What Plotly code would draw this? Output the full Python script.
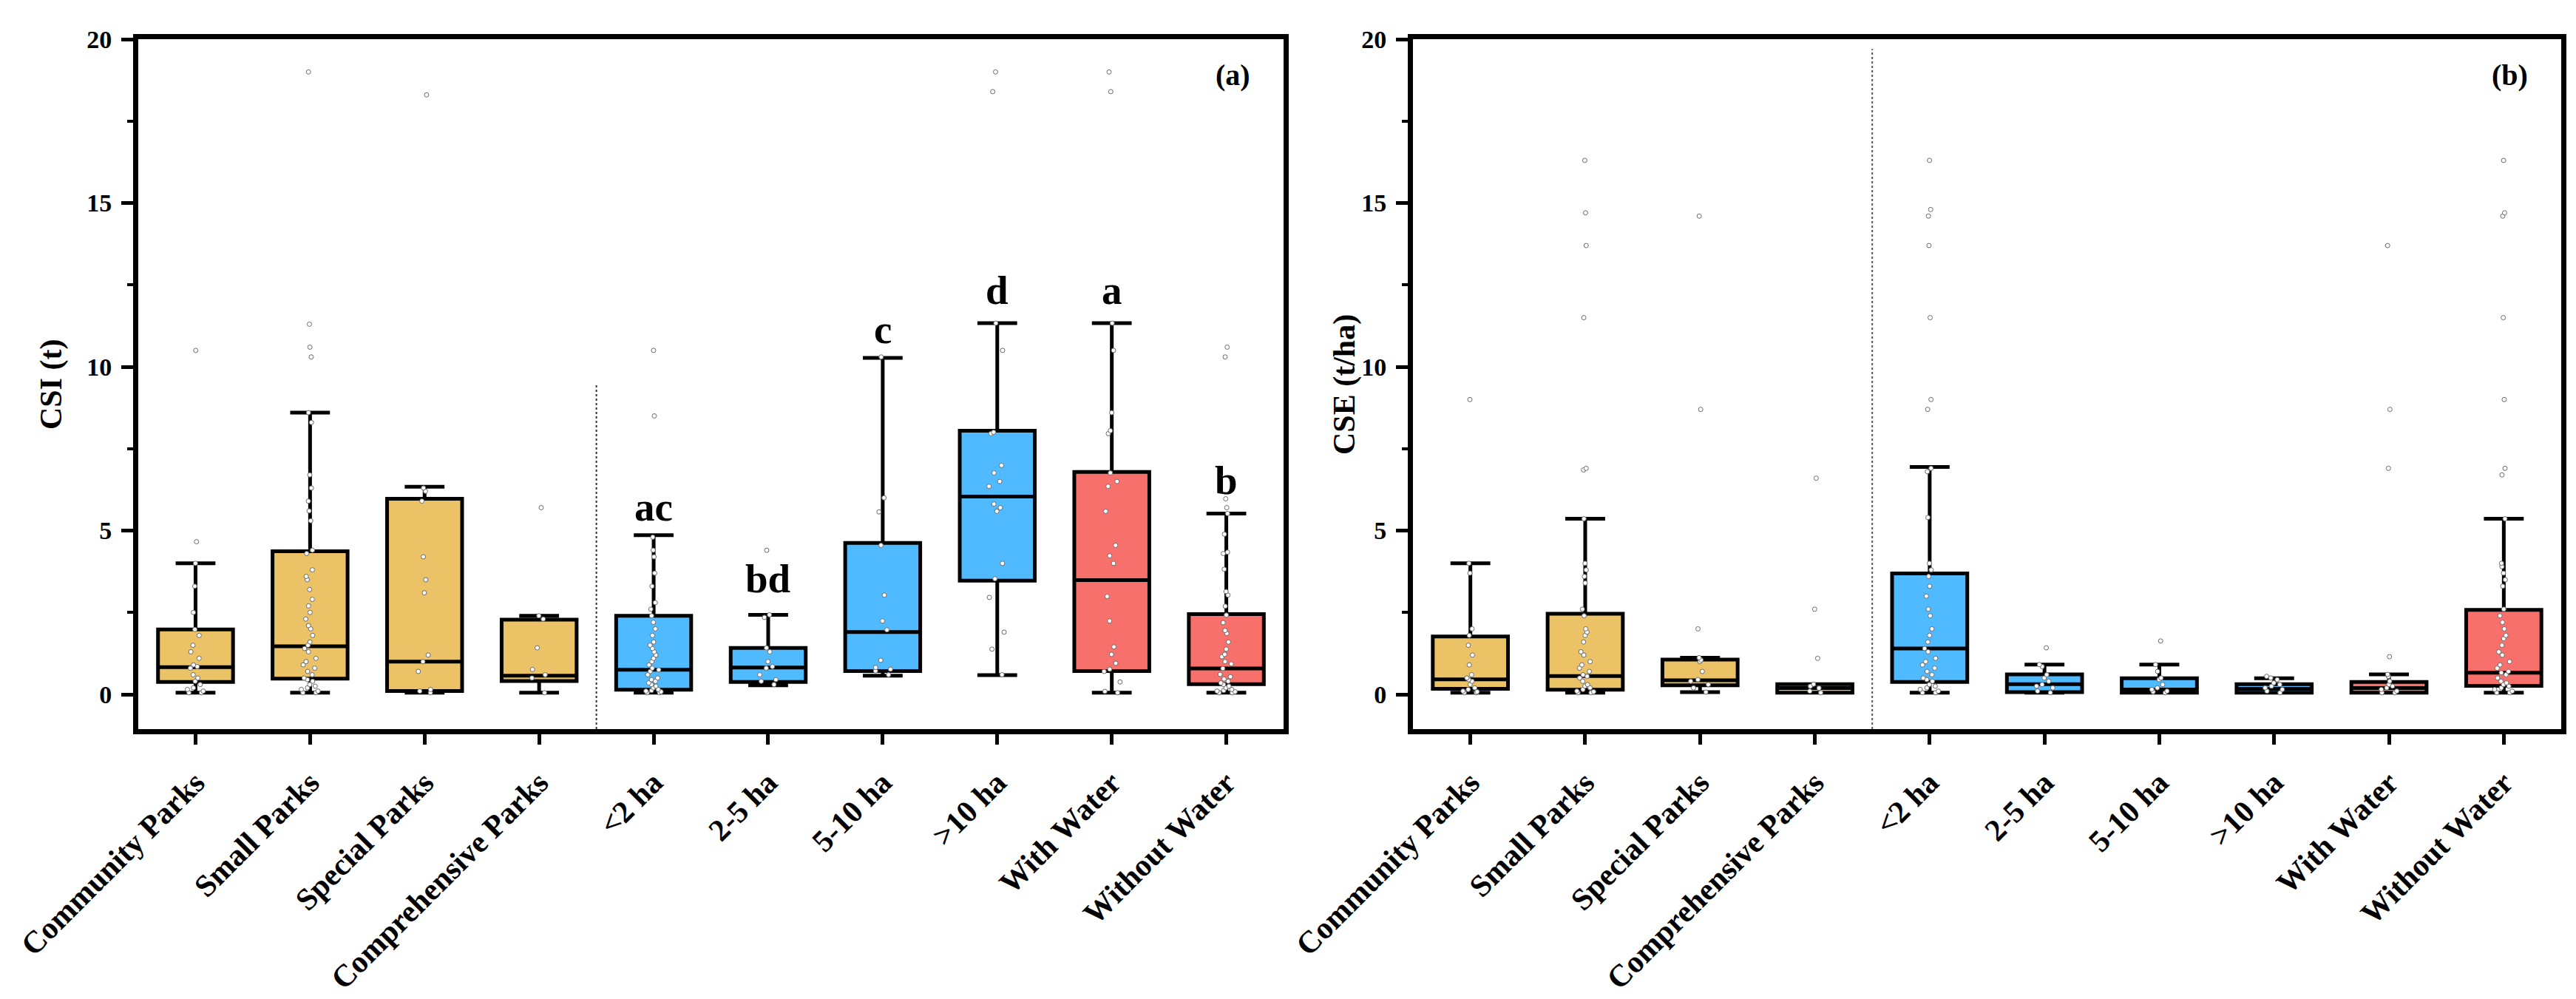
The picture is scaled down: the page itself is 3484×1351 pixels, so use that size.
import html
import plotly.graph_objects as go

CATEGORIES = ["Community Parks", "Small Parks", "Special Parks", "Comprehensive Parks",
              "<2 ha", "2-5 ha", "5-10 ha", ">10 ha", "With Water", "Without Water"]
BOX_COLORS = ["#EBC266"] * 4 + ["#4FBAFF"] * 4 + ["#F7706B"] * 2

# panel (a): CSI (t) box statistics
CSI_LO = [0.05, 0.05, 0.05, 0.05, 0.05, 0.28, 0.57, 0.59, 0.05, 0.05]
CSI_Q1 = [0.38, 0.48, 0.10, 0.41, 0.14, 0.38, 0.71, 3.47, 0.71, 0.31]
CSI_MED = [0.83, 1.47, 1.00, 0.57, 0.75, 0.82, 1.90, 6.04, 3.49, 0.79]
CSI_Q3 = [1.98, 4.37, 5.97, 2.28, 2.40, 1.42, 4.62, 8.05, 6.79, 2.45]
CSI_HI = [4.00, 8.60, 6.34, 2.40, 4.86, 2.43, 10.27, 11.33, 11.33, 5.52]

# panel (a): individual samples
CSI_COMMUNITY = [10.5, 4.66, 4.0, 3.3, 2.5, 1.98, 1.8, 1.5, 1.3, 1.1, 0.9, 0.85, 0.8,
                 0.6, 0.5, 0.4, 0.3, 0.2, 0.15, 0.1, 0.05, 0.05]
CSI_SMALL = [19.0, 11.3, 10.6, 10.3, 8.6, 8.3, 6.7, 6.3, 5.9, 5.6, 5.3, 4.4, 4.3, 3.8, 3.6,
             3.5, 3.2, 2.9, 2.7, 2.5, 2.3, 2.1, 2.0, 1.8, 1.6, 1.5, 1.4, 1.3, 1.1, 1.0, 0.9,
             0.8, 0.7, 0.6, 0.5, 0.45, 0.4, 0.3, 0.25, 0.2, 0.15, 0.1, 0.05, 0.05]
CSI_SPECIAL = [18.3, 6.3, 6.2, 5.9, 4.2, 3.5, 3.1, 1.2, 1.0, 0.7, 0.15, 0.1, 0.05]
CSI_COMPREHENSIVE = [5.7, 2.4, 2.3, 1.42, 0.76, 0.6, 0.5, 0.05]
CSI_LT2 = [10.5, 8.5, 4.8, 4.4, 4.2, 3.7, 3.3, 2.8, 2.6, 2.4, 2.2, 2.0, 1.8, 1.6, 1.5, 1.4,
           1.3, 1.2, 1.1, 1.0, 0.9, 0.8, 0.75, 0.7, 0.6, 0.5, 0.45, 0.4, 0.35, 0.3, 0.25,
           0.2, 0.15, 0.12, 0.1, 0.08, 0.05, 0.05]
CSI_2TO5 = [4.4, 2.43, 2.35, 1.42, 1.3, 1.0, 0.85, 0.8, 0.6, 0.45, 0.4, 0.3]
CSI_5TO10 = [10.3, 6.0, 5.57, 4.55, 3.03, 2.24, 1.97, 1.04, 0.82, 0.77, 0.72, 0.6]
CSI_GT10 = [19.0, 18.4, 11.33, 10.5, 7.96, 8.0, 6.99, 6.76, 6.5, 6.35, 5.81, 5.7, 5.59,
            4.0, 3.53, 2.96, 1.9, 1.38, 0.6]
CSI_WATER = [19.0, 18.4, 11.33, 10.5, 8.6, 8.05, 7.96, 6.76, 6.5, 6.35, 5.59, 4.55, 4.23,
             4.0, 2.99, 2.24, 1.45, 1.22, 0.95, 0.77, 0.7, 0.38, 0.09, 0.05]
CSI_NOWATER = [10.6, 10.3, 5.97, 5.7, 5.52, 4.89, 4.34, 4.3, 3.82, 3.14, 3.03, 2.69, 2.42,
               2.19, 1.95, 1.86, 1.6, 1.38, 1.22, 1.15, 1.0, 0.93, 0.79, 0.61, 0.54, 0.47,
               0.4, 0.35, 0.3, 0.25, 0.2, 0.15, 0.12, 0.1, 0.08, 0.05, 0.05]

# panel (b): CSE (t/ha) box statistics
CSE_LO = [0.05, 0.05, 0.07, 0.05, 0.05, 0.05, 0.05, 0.05, 0.05, 0.05]
CSE_Q1 = [0.17, 0.14, 0.28, 0.05, 0.38, 0.07, 0.05, 0.05, 0.05, 0.26]
CSE_MED = [0.46, 0.56, 0.43, 0.19, 1.40, 0.31, 0.15, 0.17, 0.19, 0.66]
CSE_Q3 = [1.77, 2.46, 1.06, 0.31, 3.69, 0.61, 0.49, 0.31, 0.38, 2.58]
CSE_HI = [4.00, 5.36, 1.12, 0.31, 6.94, 0.91, 0.91, 0.49, 0.61, 5.36]

# panel (b): individual samples
CSE_COMMUNITY = [9.0, 4.0, 3.7, 2.0, 1.8, 1.5, 1.2, 0.9, 0.6, 0.5, 0.45, 0.4, 0.3, 0.2,
                 0.15, 0.1, 0.08, 0.05, 0.05]
CSE_SMALL = [16.3, 14.7, 13.7, 11.5, 6.9, 6.85, 5.36, 4.0, 3.8, 3.6, 3.4, 2.6, 2.4, 2.0,
             1.9, 1.8, 1.6, 1.3, 1.2, 1.0, 0.9, 0.8, 0.7, 0.6, 0.55, 0.5, 0.4, 0.3, 0.25,
             0.2, 0.15, 0.1, 0.08, 0.05, 0.05]
CSE_SPECIAL = [14.6, 8.7, 2.0, 1.12, 1.05, 1.0, 0.7, 0.45, 0.4, 0.3, 0.2, 0.07]
CSE_COMPREHENSIVE = [6.6, 2.6, 1.1, 0.31, 0.25, 0.19, 0.1, 0.05]
CSE_LT2 = [16.3, 14.8, 14.6, 13.7, 11.5, 9.0, 8.7, 6.9, 6.8, 5.4, 4.0, 3.8, 3.6, 3.3, 3.0,
           2.6, 2.4, 2.0, 1.8, 1.6, 1.4, 1.3, 1.1, 1.0, 0.9, 0.8, 0.7, 0.6, 0.5, 0.45, 0.4,
           0.3, 0.25, 0.2, 0.15, 0.1, 0.05, 0.05]
CSE_2TO5 = [1.42, 0.91, 0.85, 0.6, 0.5, 0.4, 0.3, 0.25, 0.2, 0.1, 0.05]
CSE_5TO10 = [1.63, 0.91, 0.7, 0.5, 0.45, 0.3, 0.2, 0.15, 0.1, 0.08, 0.05]
CSE_GT10 = [0.55, 0.5, 0.45, 0.35, 0.3, 0.25, 0.2, 0.15, 0.1, 0.05]
CSE_WATER = [13.7, 8.7, 6.9, 1.15, 0.61, 0.55, 0.4, 0.3, 0.25, 0.2, 0.15, 0.1, 0.05, 0.05]
CSE_NOWATER = [16.3, 14.7, 14.6, 11.5, 9.0, 6.9, 6.7, 5.36, 4.0, 3.9, 3.7, 3.5, 3.3, 2.6,
               2.4, 2.2, 2.0, 1.8, 1.7, 1.5, 1.3, 1.2, 1.0, 0.9, 0.8, 0.7, 0.66, 0.6, 0.5,
               0.4, 0.35, 0.3, 0.25, 0.2, 0.15, 0.1, 0.05, 0.05]

# significance letters in panel (a)
LETTERS = ["ac", "bd", "c", "d", "a", "b"]
LETTER_POS = [4, 5, 6, 7, 8, 9]
LETTER_Y = [4.98, 2.8, 10.4, 11.6, 11.6, 5.8]

FONT = "Liberation Serif"
BOX_WIDTH = 0.655

panels = [
    dict(xa="x", ya="y", lo=CSI_LO, q1=CSI_Q1, med=CSI_MED, q3=CSI_Q3, hi=CSI_HI,
         pts=[CSI_COMMUNITY, CSI_SMALL, CSI_SPECIAL, CSI_COMPREHENSIVE, CSI_LT2,
              CSI_2TO5, CSI_5TO10, CSI_GT10, CSI_WATER, CSI_NOWATER]),
    dict(xa="x2", ya="y2", lo=CSE_LO, q1=CSE_Q1, med=CSE_MED, q3=CSE_Q3, hi=CSE_HI,
         pts=[CSE_COMMUNITY, CSE_SMALL, CSE_SPECIAL, CSE_COMPREHENSIVE, CSE_LT2,
              CSE_2TO5, CSE_5TO10, CSE_GT10, CSE_WATER, CSE_NOWATER]),
]

fig = go.Figure()

for p in panels:
    for i, cat in enumerate(CATEGORIES):
        fig.add_trace(go.Box(
            x=[i], q1=[p["q1"][i]], median=[p["med"][i]], q3=[p["q3"][i]],
            lowerfence=[p["lo"][i]], upperfence=[p["hi"][i]],
            name=cat, width=BOX_WIDTH, whiskerwidth=0.53,
            fillcolor=BOX_COLORS[i], line=dict(color="black", width=5),
            boxpoints=False, showlegend=False, xaxis=p["xa"], yaxis=p["ya"]))
    for i, cat in enumerate(CATEGORIES):
        vals = p["pts"][i]
        fig.add_trace(go.Box(
            x=[i] * len(vals), y=vals, name=cat, width=BOX_WIDTH,
            boxpoints="all", jitter=0.3, pointpos=0,
            fillcolor="rgba(0,0,0,0)", line=dict(color="rgba(0,0,0,0)", width=0),
            marker=dict(color="white", size=6, line=dict(color="#6a6a6a", width=1)),
            showlegend=False, xaxis=p["xa"], yaxis=p["ya"]))

tick_text = [html.escape(c) for c in CATEGORIES]

xaxis_style = dict(
    range=[-0.5, 9.5], tickvals=list(range(len(CATEGORIES))), ticktext=tick_text,
    tickangle=-45, ticks="outside", ticklen=14, tickwidth=5, tickcolor="black",
    ticklabelstandoff=10,
    tickfont=dict(family=FONT, size=42, color="black", weight="bold"),
    showline=True, linewidth=7, linecolor="black", mirror=True,
    showgrid=False, zeroline=False)
yaxis_style = dict(
    range=[-1.06, 20], tickvals=[0, 5, 10, 15, 20], ticks="outside", ticklen=16,
    tickwidth=5, tickcolor="black", ticklabelstandoff=6,
    tickfont=dict(family=FONT, size=34, color="black", weight="bold"),
    minor=dict(ticks="outside", ticklen=8, tickwidth=4, tickcolor="black",
               tick0=0, dtick=2.5),
    showline=True, linewidth=7, linecolor="black", mirror=True,
    showgrid=False, zeroline=False)

fig.update_layout(
    width=3484, height=1351,
    margin=dict(l=164, r=28, t=45, b=370),
    plot_bgcolor="white", paper_bgcolor="white",
    boxmode="overlay",
    xaxis=dict(domain=[0, 0.4727], **xaxis_style),
    yaxis=dict(anchor="x", **yaxis_style),
    xaxis2=dict(domain=[0.5261, 1.0], anchor="y2", **xaxis_style),
    yaxis2=dict(anchor="x2", **yaxis_style),
)

# group separators
fig.add_shape(type="line", xref="x", yref="y", x0=3.5, x1=3.5, y0=-1.06, y1=9.5,
              line=dict(color="#333333", width=2, dash="dot"))
fig.add_shape(type="line", xref="x2", yref="y2", x0=3.5, x1=3.5, y0=-1.06, y1=19.7,
              line=dict(color="#555555", width=2, dash="dot"))

for txt, pos, yv in zip(LETTERS, LETTER_POS, LETTER_Y):
    fig.add_annotation(x=pos, y=yv, xref="x", yref="y", text=txt, showarrow=False,
                       yanchor="bottom",
                       font=dict(family=FONT, size=55, color="black", weight="bold"))

for lab, xr, yr in [("(a)", "x domain", "y"), ("(b)", "x2 domain", "y2")]:
    fig.add_annotation(x=0.972, y=18.9, xref=xr, yref=yr, text=lab, showarrow=False,
                       xanchor="right", yanchor="middle",
                       font=dict(family=FONT, size=40, color="black", weight="bold"))

for title, xr, yr, xpos in [("CSI (t)", "x domain", "y domain", -0.0758),
                            ("CSE (t/ha)", "x2 domain", "y2 domain", -0.0596)]:
    fig.add_annotation(x=xpos, y=0.5, xref=xr, yref=yr, text=title, showarrow=False,
                       textangle=-90, xanchor="center", yanchor="middle",
                       font=dict(family=FONT, size=42, color="black", weight="bold"))

fig.write_html("out.html")
